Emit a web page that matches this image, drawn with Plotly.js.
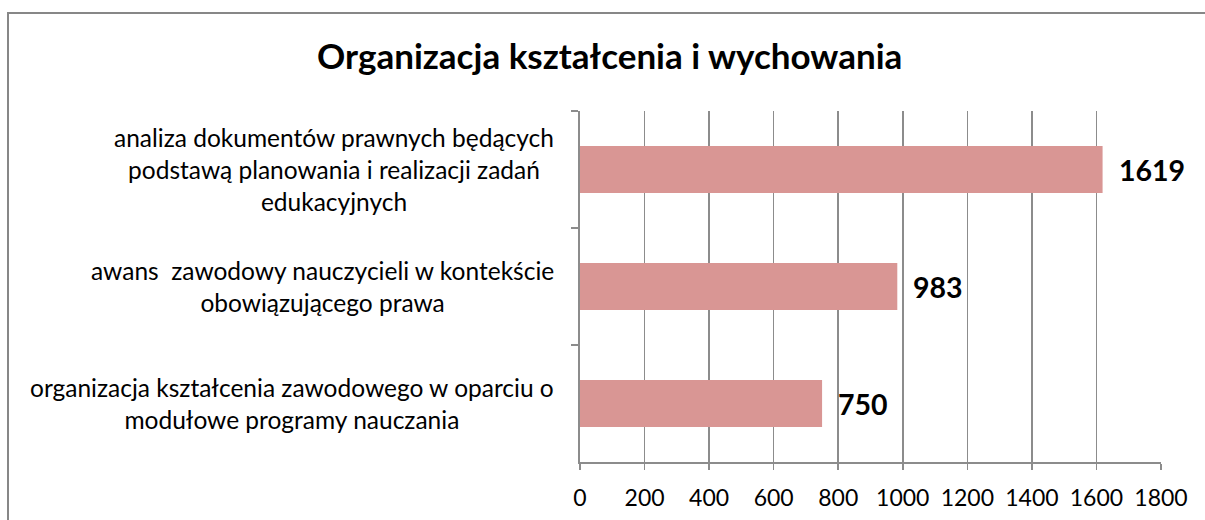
<!DOCTYPE html>
<html>
<head>
<meta charset="utf-8">
<script src="https://cdn.plot.ly/plotly-3.0.1.min.js"></script>
<style>
  html, body { margin:0; padding:0; width:1205px; height:520px; overflow:hidden; background:#fff; }
  #chart { position:absolute; left:0; top:0; width:1205px; height:520px; }
  #frame { position:absolute; left:7px; top:12px; width:1400px; height:700px; border:2px solid #878787; pointer-events:none; box-sizing:border-box; }
</style>
</head>
<body>
<div id="chart"></div>
<div id="frame"></div>
<script>
const chartTitle = "Organizacja kształcenia i wychowania";
const categories = [
  "analiza dokumentów prawnych będących<br>podstawą planowania i realizacji zadań<br>edukacyjnych",
  "awans\u00a0 zawodowy nauczycieli w kontekście<br>obowiązującego prawa",
  "organizacja kształcenia zawodowego w oparciu o<br>modułowe programy nauczania"
];
const values = [1619, 983, 750];
const xTicks = [0, 200, 400, 600, 800, 1000, 1200, 1400, 1600, 1800];

const FONT = "Lato, 'Open Sans', sans-serif";

const trace = {
  type: 'bar',
  orientation: 'h',
  x: values,
  y: categories,
  marker: { color: 'rgb(217,150,148)', line: { width: 0 } },
  hoverinfo: 'none'
};

const annotations = [];
categories.forEach((c, i) => {
  annotations.push({
    xref: 'paper', yref: 'y', x: 0, y: c, xanchor: 'right', yanchor: 'middle',
    xshift: -24, text: c, showarrow: false, align: 'center',
    font: { family: FONT, size: 24.5, color: '#000' }
  });
  annotations.push({
    xref: 'x', yref: 'y', x: values[i], y: c, xanchor: 'left', yanchor: 'middle',
    xshift: 14, text: '<b>' + values[i] + '</b>', showarrow: false,
    font: { family: FONT, size: 28.5, color: '#000' }
  });
});

const layout = {
  width: 1205, height: 520,
  margin: { l: 580, r: 44, t: 111, b: 58, pad: 0 },
  paper_bgcolor: '#fff', plot_bgcolor: '#fff',
  showlegend: false,
  bargap: 0.6,
  title: {
    text: '<b>' + chartTitle + '</b>',
    x: 0.506, xref: 'container', xanchor: 'center',
    y: 1 - 57/520, yref: 'container', yanchor: 'middle',
    font: { family: FONT, size: 35, color: '#000' }
  },
  xaxis: {
    range: [0, 1800], tickvals: xTicks, ticktext: xTicks.map(String),
    showgrid: true, gridcolor: '#8c8c8c', gridwidth: 1.5,
    showline: true, linecolor: '#8c8c8c', linewidth: 2,
    ticks: 'outside', ticklen: 6, tickcolor: '#8c8c8c', tickwidth: 1.5,
    ticklabelstandoff: 8,
    zeroline: false,
    tickfont: { family: FONT, size: 23, color: '#000' },
    fixedrange: true
  },
  yaxis: {
    type: 'category', autorange: 'reversed',
    showticklabels: false, showgrid: false, zeroline: false,
    showline: true, linecolor: '#8c8c8c', linewidth: 2,
    ticks: 'outside', tickson: 'boundaries', ticklen: 7, tickcolor: '#8c8c8c', tickwidth: 1.5,
    fixedrange: true
  },
  annotations: annotations
};

Plotly.newPlot('chart', [trace], layout, { displayModeBar: false, staticPlot: true });
</script>
</body>
</html>
